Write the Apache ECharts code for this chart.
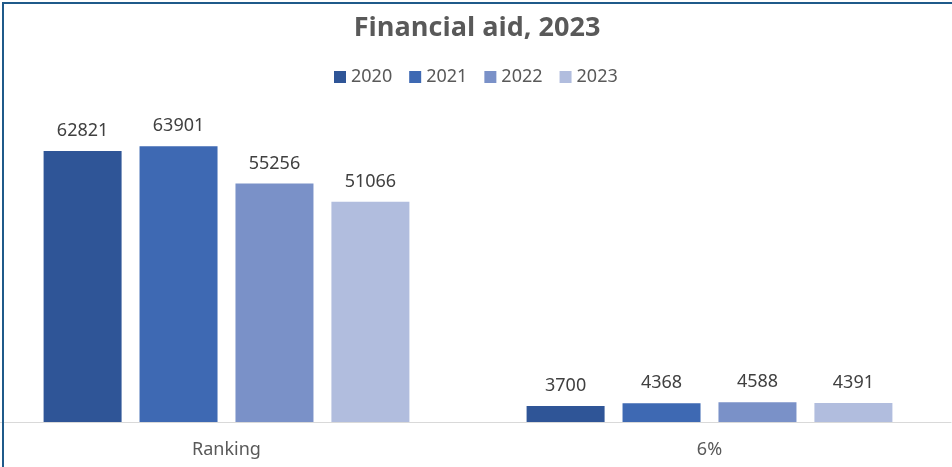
<!DOCTYPE html>
<html>
<head>
<meta charset="utf-8">
<style>
  html, body { margin: 0; padding: 0; background: #fff; overflow: hidden; }
  #wrap { width: 952px; height: 467px; position: relative; overflow: hidden; }
  /* plot area starts slightly left of the visible frame */
  #chart { width: 967px; height: 467px; position: absolute; left: -15px; top: 0; }
</style>
<script src="https://cdn.jsdelivr.net/npm/echarts@6/dist/echarts.min.js"></script>
</head>
<body>
<div id="wrap"><div id="chart"></div></div>
<script>
// Categories on the x axis and one value array per year
const categories = ['Ranking', '6%'];
const years = ['2020', '2021', '2022', '2023'];
const values2020 = [62821, 3700];
const values2021 = [63901, 4368];
const values2022 = [55256, 4588];
const values2023 = [51066, 4391];

const seriesValues = [values2020, values2021, values2022, values2023];
const colors = ['#2F5597', '#3E69B3', '#7A91C8', '#B1BDDE'];

const OFFSET = 15; // chart canvas is shifted left by this many pixels

const chart = echarts.init(document.getElementById('chart'), null, { renderer: 'canvas' });

chart.setOption({
  animation: false,
  backgroundColor: '#ffffff',
  title: {
    text: 'Financial aid, 2023',
    left: 472 + OFFSET,
    textAlign: 'center',
    top: 10,
    textStyle: {
      fontFamily: 'Open Sans',
      fontSize: 27,
      fontWeight: 'bold',
      color: '#595959'
    }
  },
  legend: {
    top: 63,
    left: 329 + OFFSET,
    itemWidth: 12,
    itemHeight: 12,
    itemGap: 17,
    icon: 'rect',
    textStyle: {
      fontFamily: 'Noto Sans',
      fontSize: 18,
      color: '#595959',
      padding: [0, 0, 0, 0]
    },
    data: years
  },
  grid: {
    left: 0,
    right: 1,
    top: 120,
    bottom: 45,
    containLabel: false
  },
  xAxis: {
    type: 'category',
    data: categories,
    axisLine: { show: true, lineStyle: { color: '#D9D9D9', width: 1 } },
    axisTick: { show: false },
    axisLabel: {
      fontFamily: 'Noto Sans',
      fontSize: 18,
      color: '#595959',
      margin: 19
    }
  },
  yAxis: {
    type: 'value',
    min: 0,
    max: 70000,
    interval: 10000,
    show: false,
    splitLine: { show: false }
  },
  series: seriesValues.map((vals, i) => ({
    name: years[i],
    type: 'bar',
    data: vals,
    barWidth: 78,
    barGap: '23%',
    itemStyle: { color: colors[i] },
    label: {
      show: true,
      position: 'top',
      distance: 11,
      fontFamily: 'Noto Sans',
      fontSize: 18,
      color: '#404040'
    }
  })),
  graphic: [{
    type: 'rect',
    silent: true,
    z: 100,
    shape: { x: 3 + OFFSET, y: 3, width: 1200, height: 1200 },
    style: { fill: 'none', stroke: '#1F5A8A', lineWidth: 2 }
  }]
});
</script>
</body>
</html>
